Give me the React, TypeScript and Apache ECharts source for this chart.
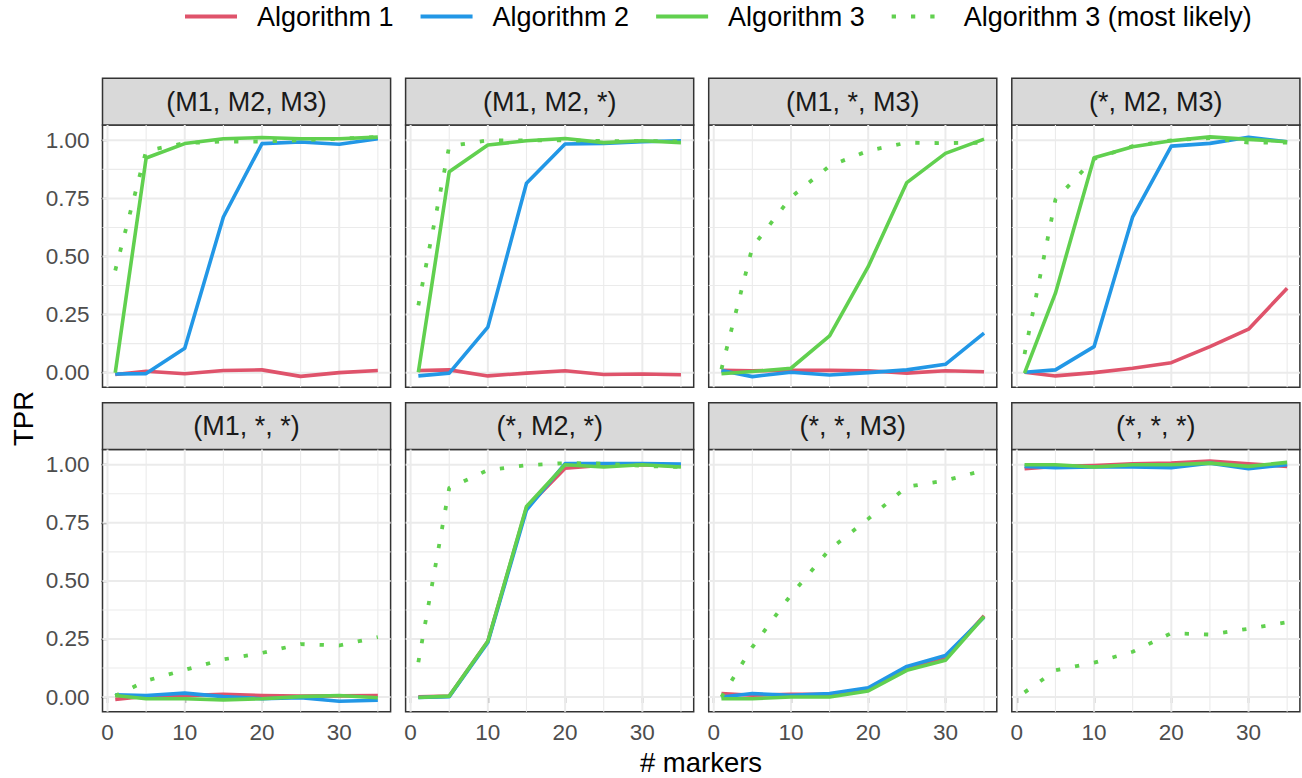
import React, { useEffect, useRef } from "react";
import * as echarts from "echarts";

// ---------------- data ----------------
const markers = [1, 5, 10, 15, 20, 25, 30, 35];
const panelTitles = [
  "(M1, M2, M3)", "(M1, M2, *)", "(M1, *, M3)", "(*, M2, M3)",
  "(M1, *, *)", "(*, M2, *)", "(*, *, M3)", "(*, *, *)",
];
const seriesNames = ["Algorithm 1", "Algorithm 2", "Algorithm 3", "Algorithm 3 (most likely)"];

const alg1 = [
  [-0.008, 0.006, -0.005, 0.009, 0.012, -0.016, 0.0, 0.009],
  [0.009, 0.012, -0.014, -0.002, 0.008, -0.008, -0.006, -0.009],
  [0.01, 0.008, 0.01, 0.01, 0.008, -0.002, 0.008, 0.004],
  [0.002, -0.014, 0.0, 0.019, 0.043, 0.112, 0.187, 0.363],
  [-0.01, 0.004, 0.006, 0.012, 0.007, 0.004, 0.005, 0.006],
  [0.001, 0.004, 0.24, 0.815, 0.985, 0.998, 1.0, 0.995],
  [0.015, 0.008, 0.012, 0.012, 0.036, 0.12, 0.165, 0.35],
  [0.983, 0.993, 0.997, 1.004, 1.007, 1.016, 1.004, 0.993],
];
const alg2 = [
  [-0.006, -0.004, 0.105, 0.67, 0.986, 0.993, 0.983, 1.007],
  [-0.014, -0.002, 0.196, 0.815, 0.984, 0.987, 0.994, 0.998],
  [0.009, -0.017, 0.002, -0.01, 0.0, 0.012, 0.036, 0.17],
  [0.002, 0.012, 0.112, 0.671, 0.975, 0.987, 1.013, 0.994],
  [0.01, 0.007, 0.017, 0.002, -0.007, -0.003, -0.018, -0.014],
  [-0.002, 0.002, 0.235, 0.805, 1.005, 1.005, 1.005, 1.003],
  [0.0, 0.015, 0.008, 0.015, 0.04, 0.132, 0.179, 0.344],
  [0.993, 0.987, 0.99, 0.99, 0.987, 1.007, 0.983, 1.0],
];
const alg3 = [
  [0.0, 0.924, 0.986, 1.007, 1.012, 1.007, 1.007, 1.014],
  [0.002, 0.865, 0.98, 0.998, 1.008, 0.99, 0.998, 0.99],
  [-0.005, 0.005, 0.019, 0.158, 0.456, 0.818, 0.944, 1.005],
  [-0.002, 0.342, 0.925, 0.972, 0.998, 1.015, 1.004, 0.994],
  [0.007, -0.007, -0.007, -0.012, -0.007, 0.002, 0.007, -0.003],
  [-0.002, 0.004, 0.24, 0.82, 1.0, 0.99, 1.0, 0.99],
  [-0.007, -0.007, 0.0, 0.0, 0.026, 0.115, 0.158, 0.347],
  [1.0, 1.0, 0.99, 1.0, 1.0, 1.007, 0.993, 1.01],
];
const alg3Likely = [
  [0.44, 0.955, 0.988, 0.995, 0.995, 1.0, 1.007, 1.014],
  [0.29, 0.975, 1.0, 1.0, 1.0, 0.997, 0.997, 0.995],
  [0.015, 0.54, 0.755, 0.89, 0.955, 0.99, 0.988, 0.99],
  [0.08, 0.745, 0.92, 0.975, 1.0, 1.01, 0.99, 0.99],
  [0.005, 0.07, 0.117, 0.162, 0.19, 0.228, 0.222, 0.258],
  [0.15, 0.9, 0.977, 0.998, 1.007, 1.005, 0.995, 0.99],
  [0.0, 0.215, 0.44, 0.635, 0.767, 0.905, 0.932, 0.976],
  [0.02, 0.115, 0.148, 0.195, 0.275, 0.269, 0.294, 0.322],
];

const xTicks = [0, 10, 20, 30];
const xMinor = [5, 15, 25, 35];
const yTicks = [0, 0.25, 0.5, 0.75, 1];
const yMinor = [0.125, 0.375, 0.625, 0.875];

// ---------------- layout / style ----------------
const XMIN = -0.65;
const XMAX = 36.65;
const YMIN = -0.063;
const YMAX = 1.066;
const FONT = "'Liberation Sans', Arial, Helvetica, sans-serif";
const COLORS = ["#DF536B", "#2297E6", "#61D04F", "#61D04F"];
const PANEL_LEFT = [102.5, 405.6, 708.7, 1011.8];
const PANEL_W = 288.1;
const STRIP_TOP = [78.3, 402.7];
const STRIP_H = 46.7;
const PANEL_H = 262.3;

export default function App() {
  const ref = useRef<HTMLDivElement>(null);

  useEffect(() => {
    if (!ref.current) return;
    const chart = echarts.init(ref.current, null, { renderer: "svg" });

    const grids: any[] = [];
    const xAxes: any[] = [];
    const yAxes: any[] = [];
    const series: any[] = [];
    const graphic: any[] = [];

    const vLines = (vals: number[]) =>
      vals.flatMap((v) => [[v, YMIN], [v, YMAX], [v, "-"]]);
    const hLines = (vals: number[]) =>
      vals.flatMap((v) => [[XMIN, v], [XMAX, v], [XMAX, "-"]]);

    for (let i = 0; i < 8; i++) {
      const row = Math.floor(i / 4);
      const col = i % 4;
      const left = PANEL_LEFT[col];
      const top = STRIP_TOP[row] + STRIP_H;
      grids.push({
        left,
        top,
        width: PANEL_W,
        height: PANEL_H,
        show: true,
        backgroundColor: "#FFFFFF",
        borderColor: "#333333",
        borderWidth: 1.5,
        containLabel: false,
      });
      const showX = row === 1;
      const showY = col === 0;
      xAxes.push({
        type: "value",
        gridIndex: i,
        min: XMIN,
        max: XMAX,
        axisLine: { show: false },
        splitLine: { show: false },
        axisTick: {
          show: showX,
          customValues: xTicks,
          length: 6,
          lineStyle: { color: "#333333", width: 1.3 },
        },
        axisLabel: {
          show: showX,
          customValues: xTicks,
          fontSize: 22.5,
          color: "#4D4D4D",
          margin: 9,
          fontFamily: FONT,
        },
      });
      yAxes.push({
        type: "value",
        gridIndex: i,
        min: YMIN,
        max: YMAX,
        axisLine: { show: false },
        splitLine: { show: false },
        axisTick: {
          show: showY,
          customValues: yTicks,
          length: 6,
          lineStyle: { color: "#333333", width: 1.3 },
        },
        axisLabel: {
          show: showY,
          customValues: yTicks,
          fontSize: 22.5,
          color: "#4D4D4D",
          margin: 13,
          fontFamily: FONT,
          formatter: (v: number) => v.toFixed(2),
        },
      });

      // grid lines (through the axis scales)
      series.push({
        type: "line",
        name: "grid-minor",
        xAxisIndex: i,
        yAxisIndex: i,
        data: [...vLines(xMinor), ...hLines(yMinor)],
        symbol: "none",
        silent: true,
        z: 1,
        connectNulls: false,
        lineStyle: { color: "#EBEBEB", width: 1.1 },
        emphasis: { disabled: true },
      });
      series.push({
        type: "line",
        name: "grid-major",
        xAxisIndex: i,
        yAxisIndex: i,
        data: [...vLines(xTicks), ...hLines(yTicks)],
        symbol: "none",
        silent: true,
        z: 1,
        connectNulls: false,
        lineStyle: { color: "#EBEBEB", width: 2 },
        emphasis: { disabled: true },
      });

      const sets = [alg1[i], alg2[i], alg3[i], alg3Likely[i]];
      sets.forEach((vals, k) => {
        series.push({
          type: "line",
          name: seriesNames[k],
          xAxisIndex: i,
          yAxisIndex: i,
          data: markers.map((m, j) => [m, vals[j]]),
          symbol: "none",
          z: 2 + k,
          color: COLORS[k],
          lineStyle: {
            color: COLORS[k],
            width: k === 3 ? 3.8 : 3.6,
            type: k === 3 ? [4.3, 15] : "solid",
            cap: "butt",
            join: "round",
          },
          emphasis: { disabled: true },
        });
      });

      // strip
      graphic.push({
        type: "rect",
        shape: { x: left, y: STRIP_TOP[row], width: PANEL_W, height: STRIP_H },
        style: { fill: "#D9D9D9", stroke: "#333333", lineWidth: 1.5 },
        silent: true,
      });
      graphic.push({
        type: "text",
        x: left + PANEL_W / 2,
        y: STRIP_TOP[row] + STRIP_H / 2,
        style: {
          text: panelTitles[i],
          fontSize: 27,
          fontFamily: FONT,
          fill: "#1A1A1A",
          align: "center",
          verticalAlign: "middle",
        },
        silent: true,
      });
    }

    graphic.push({
      type: "text",
      x: 23,
      y: 418.5,
      rotation: Math.PI / 2,
      style: {
        text: "TPR",
        fontSize: 27.5,
        fontFamily: FONT,
        fill: "#000000",
        align: "center",
        verticalAlign: "middle",
      },
      silent: true,
    });
    graphic.push({
      type: "text",
      x: 701,
      y: 762,
      style: {
        text: "# markers",
        fontSize: 27.5,
        fontFamily: FONT,
        fill: "#000000",
        align: "center",
        verticalAlign: "middle",
      },
      silent: true,
    });

    chart.setOption({
      animation: false,
      backgroundColor: "#FFFFFF",
      textStyle: { fontFamily: FONT },
      legend: {
        data: seriesNames,
        top: 3,
        left: 183,
        padding: 0,
        itemWidth: 52,
        itemHeight: 14,
        itemGap: 25,
        selectedMode: false,
        itemStyle: { opacity: 0, borderWidth: 0 },
        lineStyle: { width: 4 },
        textStyle: {
          fontSize: 27,
          color: "#000000",
          fontFamily: FONT,
          padding: [0, 0, 0, 15],
        },
      },
      grid: grids,
      xAxis: xAxes,
      yAxis: yAxes,
      series,
      graphic,
    });

    return () => chart.dispose();
  }, []);

  return (
    <div
      ref={ref}
      style={{ position: "fixed", left: 0, top: 0, width: 1302, height: 778, background: "#fff" }}
    />
  );
}
